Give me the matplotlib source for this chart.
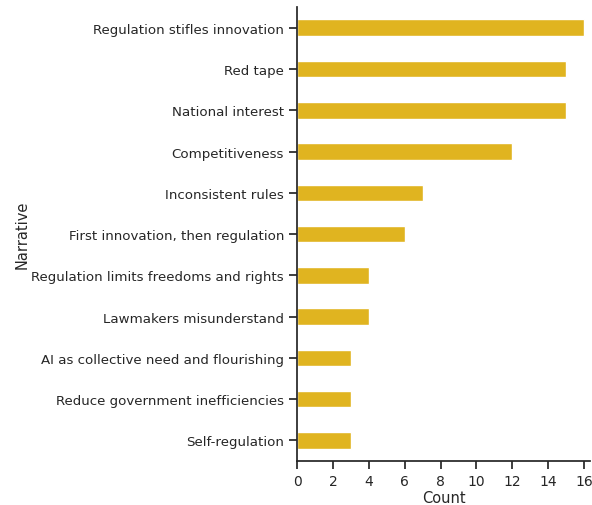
import matplotlib
matplotlib.use("Agg")
import matplotlib.pyplot as plt
import seaborn as sns

narratives = [
    "Regulation stifles innovation",
    "Red tape",
    "National interest",
    "Competitiveness",
    "Inconsistent rules",
    "First innovation, then regulation",
    "Regulation limits freedoms and rights",
    "Lawmakers misunderstand",
    "AI as collective need and flourishing",
    "Reduce government inefficiencies",
    "Self-regulation",
]
counts = [16, 15, 15, 12, 7, 6, 4, 4, 3, 3, 3]

sns.set_theme(style="ticks")

fig, ax = plt.subplots(figsize=(5.92, 5.06), dpi=100)
sns.barplot(x=counts, y=narratives, color="#E0B420", saturation=1, width=0.4, ax=ax)
ax.set_xlim(0, 16.35)
ax.set_xticks(range(0, 17, 2))
ax.set_xlabel("Count", fontsize=10.5, labelpad=1.5)
ax.set_ylabel("Narrative", fontsize=10.5, labelpad=1)
ax.tick_params(axis="y", labelsize=9.6)
ax.tick_params(axis="x", labelsize=10)
sns.despine(ax=ax)
fig.subplots_adjust(left=0.502, right=0.997, top=0.984, bottom=0.087)
fig.savefig("out.png", dpi=100)
